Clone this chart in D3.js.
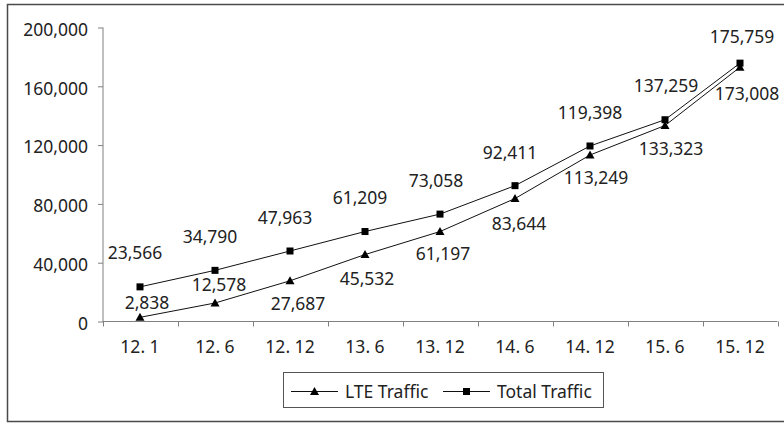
<!DOCTYPE html>
<html>
<head>
<meta charset="utf-8">
<script src="https://cdn.jsdelivr.net/npm/d3@7/dist/d3.min.js"></script>
<style>
  html, body { margin: 0; padding: 0; background: #fff; }
  svg { display: block; }
  text { font-family: "Noto Sans", "Liberation Sans", sans-serif; fill: #222; }
</style>
</head>
<body>
<svg id="chart" width="784" height="424"></svg>
<script>
// ---- data ----
const categories = ["12. 1", "12. 6", "12. 12", "13. 6", "13. 12", "14. 6", "14. 12", "15. 6", "15. 12"];
const lteTraffic = [2838, 12578, 27687, 45532, 61197, 83644, 113249, 133323, 173008];
const totalTraffic = [23566, 34790, 47963, 61209, 73058, 92411, 119398, 137259, 175759];
const yTicks = [0, 40000, 80000, 120000, 160000, 200000];
const seriesNames = ["LTE Traffic", "Total Traffic"];

// ---- layout for data labels (pixel offsets of label centre from the point) ----
const totalLabelDx = [-5, -5, -5, -5, -4, -5, 0, 1, 2];
const totalLabelDy = [-34, -34, -33, -34, -33, -33, -33, -34, -26];
const lteLabelDx = [7, 4, 8, 2, 3, 4, 6, 6, 7];
const lteLabelDy = [-15, -18, 23, 24, 22, 25, 23, 23, 27];

const svg = d3.select("#chart");
const FS = 17.5;
const capMid = FS * 0.357;

// outer border
svg.append("rect")
  .attr("x", 7.5).attr("y", 4.5)
  .attr("width", 800).attr("height", 417)
  .attr("fill", "none").attr("stroke", "#4a4a4a").attr("stroke-width", 1.5);

const x = d3.scaleBand().domain(categories).range([102.5, 777.5]);
const y = d3.scaleLinear().domain([0, 200000]).range([321.5, 27.5]);
const cx = c => x(c) + x.bandwidth() / 2;

const fmt = d3.format(",");

// y axis
const yAxis = svg.append("g").attr("transform", "translate(103,0)")
  .call(d3.axisLeft(y).tickValues(yTicks).tickSize(5).tickPadding(10).tickFormat(fmt));
yAxis.select(".domain").attr("stroke", "#808080").attr("d", `M0,${y(200000)}V${y(0)}`);
yAxis.selectAll(".tick line").attr("stroke", "#808080");
yAxis.selectAll(".tick text")
  .attr("font-size", FS).attr("font-family", "Noto Sans, sans-serif")
  .attr("fill", "#222").attr("dy", null).attr("y", 1.5 + capMid);

// x axis
const xAxis = svg.append("g").attr("transform", `translate(0,${y(0)})`)
  .call(d3.axisBottom(x).tickSize(0).tickPadding(0));
xAxis.select(".domain").attr("stroke", "#808080").attr("d", `M102.5,0H777.5`);
xAxis.selectAll(".tick text")
  .attr("font-size", FS).attr("font-family", "Noto Sans, sans-serif")
  .attr("fill", "#222").attr("dy", null).attr("y", 25.5 + capMid);
// category boundary ticks
const bounds = categories.map(c => x(c)).concat([x(categories[categories.length - 1]) + x.bandwidth()]);
svg.append("g").selectAll("line").data(bounds).join("line")
  .attr("x1", d => Math.round(d) + 0.5).attr("x2", d => Math.round(d) + 0.5)
  .attr("y1", y(0)).attr("y2", y(0) + 5)
  .attr("stroke", "#808080");

// lines
const line = d3.line().x((d, i) => cx(categories[i])).y(d => y(d));
svg.append("path").datum(lteTraffic).attr("d", line)
  .attr("fill", "none").attr("stroke", "#111").attr("stroke-width", 1);
svg.append("path").datum(totalTraffic).attr("d", line)
  .attr("fill", "none").attr("stroke", "#111").attr("stroke-width", 1);

const triPath = "M0,-4.5L4.5,3.5L-4.5,3.5Z";

// markers
svg.append("g").selectAll("path").data(lteTraffic).join("path")
  .attr("d", triPath)
  .attr("transform", (d, i) => `translate(${cx(categories[i])},${y(d)})`)
  .attr("fill", "#000");
svg.append("g").selectAll("rect").data(totalTraffic).join("rect")
  .attr("x", (d, i) => cx(categories[i]) - 3.5)
  .attr("y", d => y(d) - 3.5)
  .attr("width", 7).attr("height", 7)
  .attr("fill", "#000");

// data labels
svg.append("g").selectAll("text").data(totalTraffic).join("text")
  .attr("x", (d, i) => cx(categories[i]) + totalLabelDx[i])
  .attr("y", (d, i) => y(d) + totalLabelDy[i] + capMid)
  .attr("text-anchor", "middle").attr("font-size", FS)
  .text(d => fmt(d));
svg.append("g").selectAll("text").data(lteTraffic).join("text")
  .attr("x", (d, i) => cx(categories[i]) + lteLabelDx[i])
  .attr("y", (d, i) => y(d) + lteLabelDy[i] + capMid)
  .attr("text-anchor", "middle").attr("font-size", FS)
  .text(d => fmt(d));

// legend
const lg = svg.append("g");
lg.append("rect").attr("x", 283.5).attr("y", 372.5).attr("width", 320).attr("height", 35)
  .attr("fill", "none").attr("stroke", "#555").attr("stroke-width", 1);
const legendItems = [
  { name: seriesNames[0], x0: 291, type: "tri" },
  { name: seriesNames[1], x0: 443, type: "sq" }
];
const ly = 391.5;
legendItems.forEach(it => {
  lg.append("line").attr("x1", it.x0).attr("x2", it.x0 + 47).attr("y1", ly).attr("y2", ly)
    .attr("stroke", "#111").attr("stroke-width", 1);
  if (it.type === "tri") {
    lg.append("path").attr("d", triPath).attr("transform", `translate(${it.x0 + 23.5},${ly})`).attr("fill", "#000");
  } else {
    lg.append("rect").attr("x", it.x0 + 23.5 - 3.5).attr("y", ly - 3.5).attr("width", 7).attr("height", 7).attr("fill", "#000");
  }
  lg.append("text").attr("x", it.x0 + 54).attr("y", ly + capMid)
    .attr("font-size", FS).text(it.name);
});
</script>
</body>
</html>
